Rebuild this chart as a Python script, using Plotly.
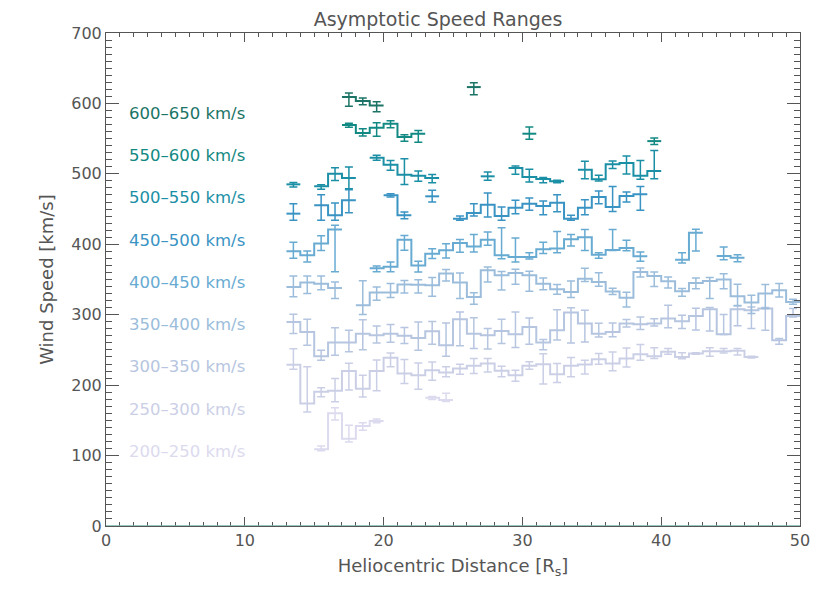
import plotly.graph_objects as go

# bin centres [R_s], speeds [km/s] and asymmetric error bars, per asymptotic speed range
R200_X = [15.5, 16.5, 17.5, 18.5, 19.5, 23.5, 24.5]
R200_V = [109, 160, 124, 142, 149, 182, 179]
R200_HI = [4.7, 8, 19, 4.7, 3, 2, 9.5]
R200_LO = [2, 9.5, 4.7, 6, 2.4, 2.4, 2.4]

R250_X = [13.5 + i for i in range(34)]
R250_V = [229, 174, 190.5, 192, 220, 195, 220, 239, 216.5, 214,
          221, 218, 223.6, 227.4, 230.7, 220.3, 214, 227.4, 229.7,
          215.6, 227.4, 229.3, 236.8, 230.7, 237.8, 244, 241, 247.3,
          240, 245, 248.2, 248.2, 248.7, 240]
R250_HI = [22.7, 52, 5.7, 17.5, 11, 19, 15.6, 6.6, 20, 17.5,
           12, 8, 6, 10.4, 7, 6.6, 7, 5.7, 15,
           15, 12, 6, 8, 16.5, 15, 13.7, 12, 4.7,
           6, 1, 5, 3.8, 3.3, 1]
R250_LO = [6.6, 12, 7, 15.6, 27, 12, 28, 13, 14, 20,
           14, 6, 8, 11, 12, 8.5, 8.5, 4.7, 28,
           12, 15.6, 13.6, 7, 10.4, 12, 8.5, 3.3, 3.3,
           2.4, 1, 7, 2.4, 6, 1.5]

R300_X = [13.5 + i for i in range(37)]
R300_V = [289.8, 275.6, 241, 260.5, 260.5, 273, 271, 273, 270, 267,
          276.5, 256.7, 293.6, 273, 271, 277, 272.3, 282.7, 260.5,
          278, 303, 287.4, 273, 275.6, 287.4, 286.5, 287.4, 294.5,
          290.7, 298.3, 307.8, 272.3, 307.8, 306.3, 308.7, 263.8, 298.3]
R300_HI = [11, 18, 8.5, 21, 17.5, 20, 13, 13, 12, 22.7,
           14, 31.7, 10.4, 22.7, 9.5, 16.5, 31.7, 12.8, 4.3,
           29, 7, 19, 15, 12.8, 5.7, 10.4, 7, 19,
           8.5, 11, 2.4, 28, 4.7, 4.7, 1.4, 2.4, 10.4]
R300_LO = [16.5, 19, 5.7, 18, 13, 22.7, 11, 12, 11, 17.5,
           18.4, 15.6, 37.8, 21, 19.8, 18, 19, 24.6, 10.4,
           14, 43, 26, 4.7, 7, 4.7, 7.5, 3.3, 13,
           10.4, 20, 31, 0.5, 23.6, 26, 30.7, 5.7, 1.4]

R350_X = [13.5, 14.5, 15.5, 16.5] + [18.5 + i for i in range(32)]
R350_V = [339.4, 345.6, 344, 338,
          313.4, 331.4, 331.4, 343, 342.7,
          341.8, 358.4, 345.6, 325.3, 363, 356, 359.3, 356, 344,
          336, 332.3, 351, 346.5, 333, 324, 360.7, 355, 347.5,
          333.3, 345, 348, 350, 326.2, 317.2, 330, 334.7, 318]
R350_HI = [15.6, 9.5, 11, 8.5,
           35, 8, 13, 5.7, 7,
           11, 5.7, 13.7, 6, 4.7, 5.2, 5.2, 5.7, 8,
           7, 15.6, 15, 13, 4.7, 8, 5.7, 5.7, 6,
           3.8, 7, 4.7, 8, 17, 10.4, 13, 9.5, 3.8]
R350_LO = [14, 15.6, 8.5, 15,
           13, 11, 7, 12, 12,
           15.6, 10.4, 22.7, 10.4, 16.5, 21, 16, 22.7, 8.5,
           7, 8, 4, 6, 4.3, 13, 7, 15, 9.5,
           7, 8, 25, 13, 13, 15.6, 21, 9.5, 3.3]

R400_X = [13.5, 14.5, 15.5, 16.5] + [19.5 + i for i in range(20)] + [41.5, 42.5, 44.5, 45.5]
R400_V = [390, 384.4, 401, 421,
          366, 368, 406.6, 370,
          386.7, 391.4, 401.8, 397, 406.6, 384.4, 382, 382, 393,
          394, 407, 410, 385, 392, 394.8, 383,
          378, 416.5, 383.4, 381]
R400_HI = [13, 6, 11, 6,
           3, 7, 6, 6,
           7, 9.5, 5, 17, 11, 39, 27, 6, 10,
           24, 7, 11, 3, 29, 11, 6,
           10, 4.7, 12.8, 4.3]
R400_LO = [10, 9.5, 10, 60,
           5, 7, 15, 9.5,
           7, 11, 13, 8, 8, 5, 7, 3, 6,
           6, 9.5, 19, 5, 1, 4, 7,
           4.7, 26, 5.2, 5.7]

R450_X = [13.5, 15.5, 16.5, 17.5, 20.5, 21.5, 23.5] + [25.5 + i for i in range(14)]
R450_V = [443.5, 455.3, 441.1, 462.4, 469.5, 441.1, 468.1,
          436.4, 444.4, 456.3, 440.2, 452, 457.7, 454.4, 459.1, 436.4, 452, 467.1, 453, 468.6, 470.9]
R450_HI = [14, 15, 17.5, 15, 2.4, 4.7, 8.5,
           3.8, 13, 16.5, 12.8, 10.4, 8, 7, 11.3, 4.7, 11.3, 8.5, 29, 5.7, 11.3]
R450_LO = [9.5, 21, 7, 17.5, 2.4, 4.7, 8,
           2.4, 4.3, 17.5, 6, 8.5, 9.5, 12.3, 12.8, 2.4, 10, 9.5, 6.6, 8.5, 22.7]

R500_X = [13.5, 15.5, 16.5, 17.5, 19.5, 20.5, 21.5, 22.5, 23.5, 27.5,
          29.5, 30.5, 31.5, 32.5, 34.5, 35.5, 36.5, 37.5, 38.5, 39.5]
R500_V = [485.1, 482.3, 500.2, 494, 523, 513, 498.8, 497.4, 494, 496.5,
          508.3, 495.5, 492.7, 489.4, 506, 492.2, 513.5, 515.4, 497.4, 504]
R500_HI = [2.8, 2.4, 8.5, 15.6, 3.3, 6, 22.7, 6.6, 5.2, 6,
           2.8, 11, 2, 1.4, 12, 5.7, 4.7, 10, 21.7, 29]
R500_LO = [3.8, 4.3, 9.5, 15.1, 3.8, 8, 14, 8, 6.6, 5.7,
           9, 7, 5.2, 1.9, 12.8, 2.4, 6, 15.6, 5.2, 11]

R550_X = [17.5, 18.5, 19.5, 20.5, 21.5, 22.5, 30.5, 39.5]
R550_V = [569.3, 558, 565.5, 571, 552.3, 557, 557, 546.5]
R550_HI = [2.4, 6, 7, 4.3, 3.3, 4.7, 9.5, 4.3]
R550_LO = [3.3, 4.3, 12, 5.7, 6, 12, 8, 4.7]

R600_X = [17.5, 18.5, 19.5, 26.5]
R600_V = [609, 603.3, 597.2, 623.2]
R600_HI = [5.7, 4.3, 5.2, 6]
R600_LO = [13, 5.2, 9, 11]

LABELS = ["200–250 km/s", "250–300 km/s", "300–350 km/s", "350–400 km/s", "400–450 km/s",
          "450–500 km/s", "500–550 km/s", "550–600 km/s", "600–650 km/s"]
COLORS = ["#dcdaee", "#cbcfe6", "#b6c5e0", "#9bbddb", "#68abd2",
          "#3993c3", "#1b8fa5", "#138983", "#1b7466"]

SERIES = [
    (R200_X, R200_V, R200_HI, R200_LO),
    (R250_X, R250_V, R250_HI, R250_LO),
    (R300_X, R300_V, R300_HI, R300_LO),
    (R350_X, R350_V, R350_HI, R350_LO),
    (R400_X, R400_V, R400_HI, R400_LO),
    (R450_X, R450_V, R450_HI, R450_LO),
    (R500_X, R500_V, R500_HI, R500_LO),
    (R550_X, R550_V, R550_HI, R550_LO),
    (R600_X, R600_V, R600_HI, R600_LO),
]

BIN_WIDTH = 1.0
GREY = "#555555"
FONT = "DejaVu Sans"
PAGE_PAD = 8  # default body margin of the html page


def histogram_path(xs, vs):
    # IDL psym=10 style: each run of adjacent bins spans edge to edge
    px, py = [], []
    run_x, run_v = [], []

    def flush():
        if run_x:
            px.extend([c - BIN_WIDTH / 2 for c in run_x] + [run_x[-1] + BIN_WIDTH / 2, None])
            py.extend(run_v + [run_v[-1], None])

    for c, v in zip(xs, vs):
        if run_x and abs(c - run_x[-1] - BIN_WIDTH) > 1e-6:
            flush()
            run_x, run_v = [], []
        run_x.append(c)
        run_v.append(v)
    flush()
    return px, py


fig = go.Figure()
for (xs, vs, hi, lo), color, name in zip(SERIES, COLORS, LABELS):
    sx, sy = histogram_path(xs, vs)
    fig.add_trace(go.Scatter(x=sx, y=sy, mode="lines", line=dict(color=color, width=2, shape="hv"),
                             name=name, showlegend=False, hoverinfo="skip"))
    fig.add_trace(go.Scatter(x=xs, y=vs, mode="markers", marker=dict(size=1, color=color, opacity=0),
                             error_y=dict(type="data", array=hi, arrayminus=lo, color=color,
                                          thickness=1.5, width=4),
                             name=name, showlegend=False))

label_x = 1.5
label_y0, label_step = 106, 60
for i, (name, color) in enumerate(zip(LABELS, COLORS)):
    fig.add_annotation(x=label_x, y=label_y0 + i * label_step, text=name, showarrow=False,
                       xanchor="left", yanchor="middle", font=dict(family=FONT, size=16.5, color=color))

# teal baseline along the bottom of the frame
fig.add_shape(type="line", xref="paper", x0=0, x1=1, yref="y", y0=0, y1=0,
              line=dict(color="#72b5ad", width=1.5), layer="above")

fig.update_layout(
    width=830 - PAGE_PAD, height=594 - PAGE_PAD,
    margin=dict(l=106 - PAGE_PAD, r=30, t=33 - PAGE_PAD, b=68, autoexpand=False),
    paper_bgcolor="white", plot_bgcolor="white",
    font=dict(family=FONT, size=16, color=GREY),
    title=dict(text="Asymptotic Speed Ranges", x=(438 - PAGE_PAD) / (830 - PAGE_PAD), xanchor="center",
               y=1 - (19 - PAGE_PAD) / (594 - PAGE_PAD), yanchor="middle",
               font=dict(family=FONT, size=19, color=GREY)),
    xaxis=dict(range=[0, 50], dtick=10, tick0=0, showgrid=False, zeroline=False,
               showline=True, linecolor=GREY, linewidth=1, mirror="allticks",
               ticks="inside", ticklen=9, tickcolor=GREY, automargin=False,
               minor=dict(dtick=1, ticks="inside", ticklen=4, tickcolor=GREY),
               title=dict(text="Heliocentric Distance [R<sub>s</sub>]", standoff=10,
                          font=dict(family=FONT, size=18, color=GREY))),
    yaxis=dict(range=[0, 700], dtick=100, tick0=0, showgrid=False, zeroline=False,
               showline=True, linecolor=GREY, linewidth=1, mirror="allticks",
               ticks="inside", ticklen=13, tickcolor=GREY, automargin=False,
               minor=dict(dtick=10, ticks="inside", ticklen=6, tickcolor=GREY),
               title=dict(text="Wind Speed [km/s]", standoff=12,
                          font=dict(family=FONT, size=18, color=GREY))),
)

fig.write_html("out.html")
